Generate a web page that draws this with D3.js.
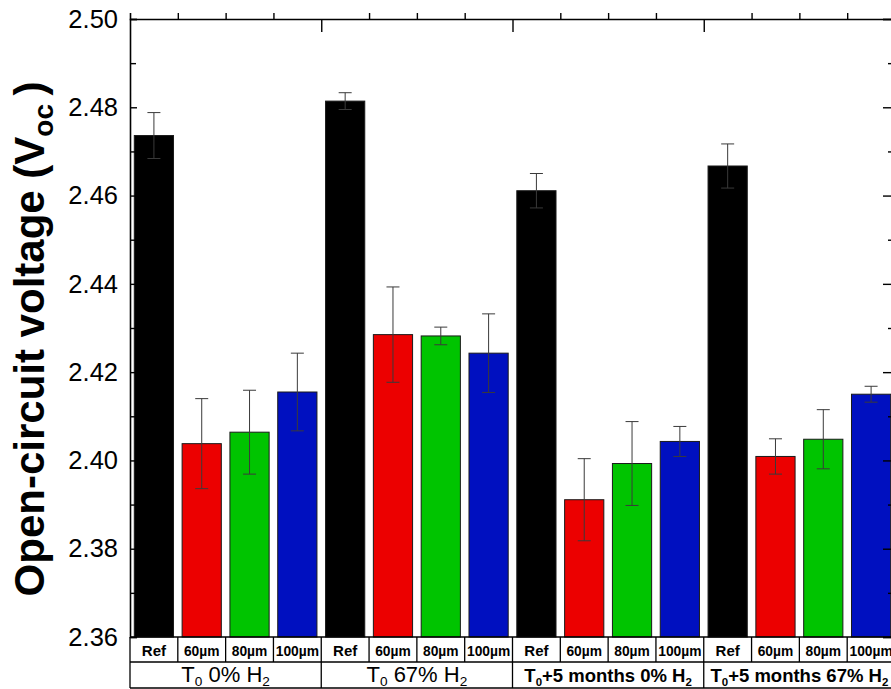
<!DOCTYPE html>
<html><head><meta charset="utf-8">
<script src="https://cdn.jsdelivr.net/npm/d3@7"></script>
<style>body{margin:0;background:#fff;overflow:hidden}svg{display:block}</style>
</head><body>
<svg id="c" width="891" height="689"></svg>
<script>
// ---- data ----
const groupIds = ["g1", "g2", "g3", "g4"];
const groupMain = ["T", "T", "T", "T"];
const groupSub0 = ["0", "0", "0", "0"];
const groupMid = [" 0% H", " 67% H", "+5 months 0% H", "+5 months 67% H"];
const groupSub2 = ["2", "2", "2", "2"];
const groupBold = [false, false, true, true];
const categories = ["Ref", "60µm", "80µm", "100µm"];
const colors = ["#000000", "#ec0000", "#00c400", "#0010c0"];
const refVal = [2.4736, 2.4814, 2.4611, 2.4667];
const refErr = [0.0052, 0.0019, 0.0039, 0.0050];
const um60Val = [2.4038, 2.4285, 2.3911, 2.4009];
const um60Err = [0.0102, 0.0108, 0.0093, 0.0040];
const um80Val = [2.4064, 2.4282, 2.3993, 2.4048];
const um80Err = [0.0095, 0.0020, 0.0095, 0.0067];
const um100Val = [2.4155, 2.4243, 2.4043, 2.4150];
const um100Err = [0.0088, 0.0089, 0.0034, 0.0018];
const yMajor = [2.36, 2.38, 2.40, 2.42, 2.44, 2.46, 2.48, 2.50];
const yMinor = [2.37, 2.39, 2.41, 2.43, 2.45, 2.47, 2.49];

const seriesVal = [refVal, um60Val, um80Val, um100Val];
const seriesErr = [refErr, um60Err, um80Err, um100Err];
const rows = [];
groupIds.forEach((g, gi) => categories.forEach((c, ci) => rows.push({g, gi, c, ci, v: seriesVal[ci][gi], e: seriesErr[ci][gi]})));

// ---- layout ----
const L = 130, R = 895, T = 19, B = 637;
const svg = d3.select("#c");
const x0 = d3.scaleBand().domain(groupIds).range([L, R]).padding(0);
const x1 = d3.scaleBand().domain(categories).range([0, x0.bandwidth()]).padding(0);
const xi = d3.scaleLinear().domain([0, groupIds.length * categories.length]).range([L, R]);
const y = d3.scaleLinear().domain([2.36, 2.50]).range([B, T]);
const bw = x1.bandwidth() * 0.82;
const cx = d => x0(d.g) + x1(d.c) + x1.bandwidth() / 2;

// bars
svg.append("g").selectAll("rect").data(rows).join("rect")
  .attr("x", d => cx(d) - bw / 2).attr("width", bw)
  .attr("y", d => y(d.v)).attr("height", d => y(2.36) - y(d.v))
  .attr("fill", d => colors[d.ci]).attr("stroke", "#1a1a1a").attr("stroke-width", 1);

// error bars
const eg = svg.append("g").attr("stroke", "#3a3a3a").attr("stroke-width", 1).attr("fill", "none");
eg.selectAll("path").data(rows).join("path")
  .attr("d", d => {
    const x = cx(d), t = y(d.v + d.e), b = y(d.v - d.e), h = 6.5;
    return `M${x},${t}V${b}M${x - h},${t}H${x + h}M${x - h},${b}H${x + h}`;
  });

// left axis
const fmt = d3.format(".2f");
const ax = svg.append("g").attr("transform", `translate(${L},0)`)
  .call(d3.axisLeft(y).tickValues(yMajor).tickSize(-7).tickPadding(12).tickFormat(fmt));
ax.selectAll("text").attr("font-family", "Liberation Sans, Arial, sans-serif").attr("font-size", 25.5).attr("fill", "#000");
ax.select(".domain").attr("stroke-width", 1.6);
ax.selectAll(".tick line").attr("stroke-width", 1.4);
const axm = svg.append("g").attr("transform", `translate(${L},0)`)
  .call(d3.axisLeft(y).tickValues(yMinor).tickSize(-6).tickFormat(""));
axm.select(".domain").remove();
axm.selectAll(".tick line").attr("stroke-width", 1.4);

// right axis
const ar = svg.append("g").attr("transform", `translate(${R},0)`)
  .call(d3.axisRight(y).tickValues(yMajor).tickSize(-12).tickFormat(""));
ar.select(".domain").attr("stroke-width", 1.6);
ar.selectAll(".tick line").attr("stroke-width", 1.4);
const arm = svg.append("g").attr("transform", `translate(${R},0)`)
  .call(d3.axisRight(y).tickValues(yMinor).tickSize(-7).tickFormat(""));
arm.select(".domain").remove();
arm.selectAll(".tick line").attr("stroke-width", 1.4);

// top axis
const nCat = groupIds.length * categories.length;
const innerIdx = d3.range(1, nCat).filter(i => i % categories.length !== 0);
const groupIdx = d3.range(1, groupIds.length).map(i => i * categories.length);
const at = svg.append("g").attr("transform", `translate(0,${T})`)
  .call(d3.axisTop(xi).tickValues(innerIdx).tickSize(6).tickFormat(""));
at.select(".domain").attr("stroke-width", 1.6);
at.selectAll(".tick line").attr("stroke-width", 1.4);
const at2 = svg.append("g").attr("transform", `translate(0,${T})`)
  .call(d3.axisTop(xi).tickValues(groupIdx).tickSize(-13).tickFormat(""));
at2.select(".domain").remove();
at2.selectAll(".tick line").attr("stroke-width", 1.4);

// bottom axis line + table
const row1 = 662, row2 = 688;
const tb = svg.append("g").attr("stroke", "#000").attr("stroke-width", 1.3);
tb.append("line").attr("x1", L).attr("x2", R).attr("y1", B).attr("y2", B).attr("stroke-width", 1.6);
tb.append("line").attr("x1", L).attr("x2", R).attr("y1", row1).attr("y2", row1);
tb.append("line").attr("x1", L).attr("x2", R).attr("y1", row2).attr("y2", row2);
tb.selectAll("line.v1").data(d3.range(0, nCat + 1)).join("line").attr("class", "v1")
  .attr("x1", i => xi(i)).attr("x2", i => xi(i)).attr("y1", B).attr("y2", i => i % categories.length === 0 ? row2 : row1);

// category labels
svg.append("g").selectAll("text").data(rows).join("text")
  .attr("x", d => cx(d)).attr("y", 655.5).attr("text-anchor", "middle")
  .attr("font-family", "Liberation Sans, Arial, sans-serif").attr("font-weight", "bold")
  .attr("font-size", d => d.ci === 0 ? 15 : 13.8).text(d => d.c);

// group labels
const gl = svg.append("g").selectAll("text").data(groupIds).join("text")
  .attr("x", g => x0(g) + x0.bandwidth() / 2).attr("y", 682).attr("text-anchor", "middle")
  .attr("font-family", "Liberation Sans, Arial, sans-serif")
  .attr("font-weight", (g, i) => groupBold[i] ? "bold" : "normal")
  .attr("font-size", (g, i) => groupBold[i] ? 18.5 : 22);
gl.each(function (g, i) {
  const t = d3.select(this);
  const fs = groupBold[i] ? 18.5 : 22;
  t.append("tspan").text(groupMain[i]);
  t.append("tspan").attr("font-size", fs * 0.62).attr("dy", 4).text(groupSub0[i]);
  t.append("tspan").attr("dy", -4).text(groupMid[i]);
  t.append("tspan").attr("font-size", fs * 0.62).attr("dy", 4).text(groupSub2[i]);
});

// y label
const yl = svg.append("text").attr("transform", "translate(44,339) rotate(-90)")
  .attr("text-anchor", "middle").attr("font-family", "Liberation Sans, Arial, sans-serif")
  .attr("font-weight", "bold").attr("font-size", 42);
yl.append("tspan").text("Open-circuit voltage (V");
yl.append("tspan").attr("font-size", 28).attr("dy", 9).text("oc");
yl.append("tspan").attr("dy", -9).text("\u2009)");
</script>
</body></html>
